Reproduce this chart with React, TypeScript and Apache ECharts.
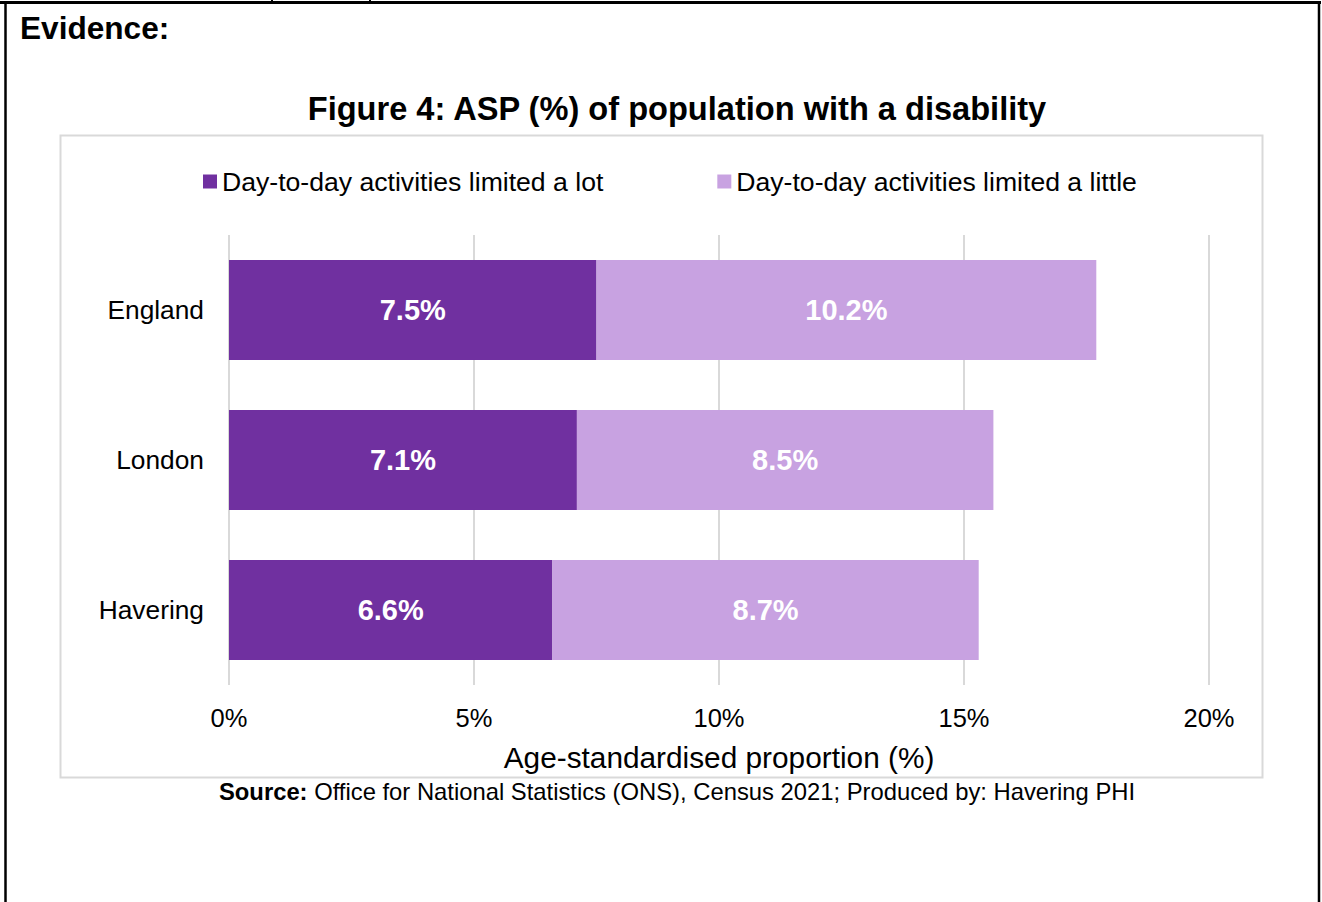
import React, { useEffect, useRef } from "react";
import * as echarts from "echarts";

const categories = ["England", "London", "Havering"];
const limitedALot = [7.5, 7.1, 6.6];
const limitedALittle = [10.2, 8.5, 8.7];
const seriesNames = ["Day-to-day activities limited a lot", "Day-to-day activities limited a little"];
const titleText = "Figure 4: ASP (%) of population with a disability";
const axisTitle = "Age-standardised proportion (%)";
const headerText = "Evidence:";
const sourceBold = "Source:";
const sourceRest = " Office for National Statistics (ONS), Census 2021; Produced by: Havering PHI";

const FONT = "'Liberation Sans', Arial, sans-serif";
const DARK = "#7030A0";
const LIGHT = "#C8A2E1";

export default function App() {
  const ref = useRef<HTMLDivElement>(null);
  useEffect(() => {
    document.body.style.margin = "0";
    const chart = echarts.init(ref.current!, null, { renderer: "svg" });
    chart.setOption({
      animation: false,
      backgroundColor: "#fff",
      textStyle: { fontFamily: FONT },
      legend: {
        left: 203,
        top: 168,
        padding: 0,
        itemWidth: 14,
        itemHeight: 14,
        itemGap: 114,
        icon: "rect",
        textStyle: { fontSize: 26.6, color: "#000", fontFamily: FONT },
        data: seriesNames,
      },
      grid: { left: 229, right: 113, top: 235, bottom: 217, containLabel: false },
      xAxis: {
        type: "value",
        min: 0,
        max: 20,
        interval: 5,
        axisLine: { show: false },
        axisTick: { show: false },
        splitLine: { show: true, lineStyle: { color: "#D9D9D9", width: 2 } },
        axisLabel: { formatter: "{value}%", fontSize: 25.5, color: "#000", margin: 20, fontFamily: FONT },
        name: axisTitle,
        nameLocation: "middle",
        nameGap: 57,
        nameTextStyle: { fontSize: 29.8, color: "#000", fontFamily: FONT },
      },
      yAxis: {
        type: "category",
        inverse: true,
        data: categories,
        axisLine: { show: false },
        axisTick: { show: false },
        axisLabel: { fontSize: 26.3, color: "#000", margin: 25, fontFamily: FONT },
      },
      series: [
        {
          name: seriesNames[0],
          type: "bar",
          stack: "total",
          barWidth: "66.7%",
          itemStyle: { color: DARK },
          data: limitedALot,
          label: {
            show: true,
            position: "inside",
            formatter: "{c}%",
            color: "#fff",
            fontWeight: "bold",
            fontSize: 29,
            fontFamily: FONT,
          },
        },
        {
          name: seriesNames[1],
          type: "bar",
          stack: "total",
          barWidth: "66.7%",
          itemStyle: { color: LIGHT },
          data: limitedALittle,
          label: {
            show: true,
            position: "inside",
            formatter: "{c}%",
            color: "#fff",
            fontWeight: "bold",
            fontSize: 29,
            fontFamily: FONT,
          },
        },
      ],
      graphic: [
        { type: "line", shape: { x1: 0, y1: 2.5, x2: 1321, y2: 2.5 }, style: { stroke: "#000", lineWidth: 3 } },
        { type: "line", shape: { x1: 5.5, y1: 1, x2: 5.5, y2: 902 }, style: { stroke: "#000", lineWidth: 2.5 } },
        { type: "line", shape: { x1: 1319, y1: 1, x2: 1319, y2: 902 }, style: { stroke: "#000", lineWidth: 2.5 } },
        { type: "line", shape: { x1: 272, y1: 0, x2: 272, y2: 3 }, style: { stroke: "#000", lineWidth: 2 } },
        { type: "line", shape: { x1: 370, y1: 0, x2: 370, y2: 3 }, style: { stroke: "#000", lineWidth: 2 } },
        {
          type: "rect",
          shape: { x: 60.5, y: 135.5, width: 1202, height: 642 },
          style: { fill: "none", stroke: "#D9D9D9", lineWidth: 2 },
          z: -1,
        },
        {
          type: "text",
          x: 20,
          y: 28,
          style: {
            text: headerText,
            font: `bold 31.6px ${FONT}`,
            fill: "#000",
            textAlign: "left",
            textVerticalAlign: "middle",
          },
        },
        {
          type: "text",
          x: 677,
          y: 108,
          style: {
            text: titleText,
            font: `bold 32.6px ${FONT}`,
            fill: "#000",
            textAlign: "center",
            textVerticalAlign: "middle",
          },
        },
        {
          type: "text",
          x: 677,
          y: 791,
          style: {
            text: `{b|${sourceBold}}{r|${sourceRest}}`,
            textAlign: "center",
            textVerticalAlign: "middle",
            rich: {
              b: { fontWeight: "bold", fontSize: 23.8, fontFamily: FONT, fill: "#000" },
              r: { fontSize: 23.8, fontFamily: FONT, fill: "#000" },
            },
          },
        },
      ],
    });
    return () => chart.dispose();
  }, []);
  return <div ref={ref} style={{ position: "absolute", left: 0, top: 0, width: 1322, height: 902 }} />;
}
